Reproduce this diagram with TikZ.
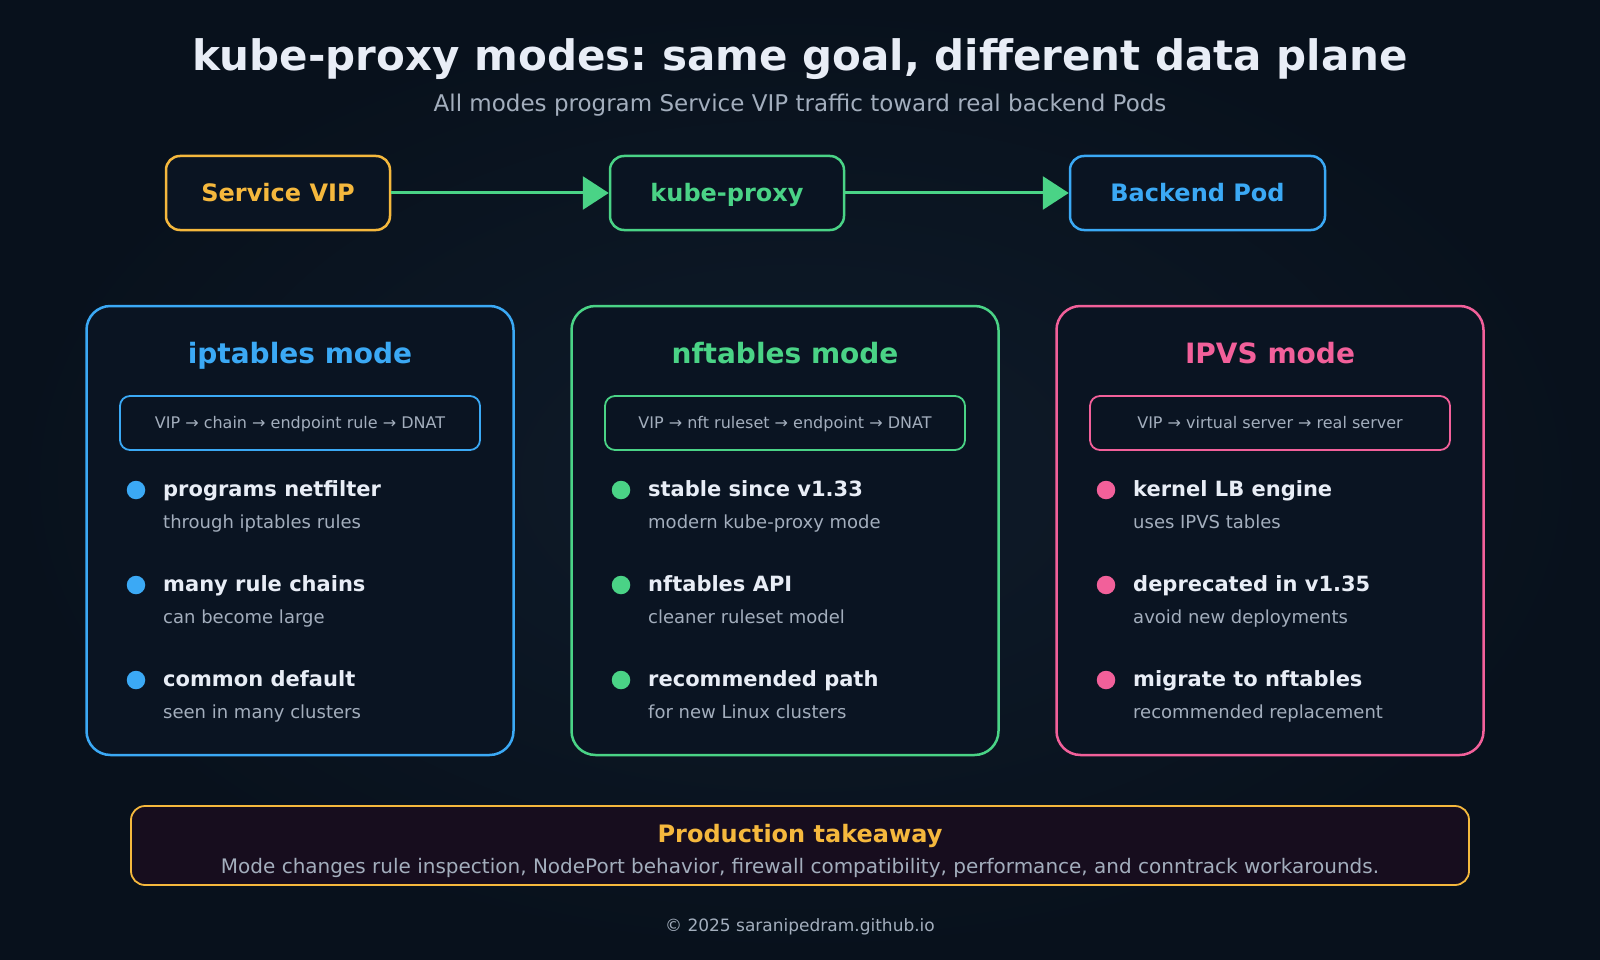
\documentclass[tikz,border=0pt]{standalone}
\usepackage{fontspec}
\setmainfont{DejaVu Sans}
\usetikzlibrary{arrows.meta, positioning}
\frenchspacing
\definecolor{bgdark}{HTML}{08111C}
\definecolor{bglight}{HTML}{0F1B2A}
\definecolor{boxfill}{HTML}{0A1422}
\definecolor{iptblue}{HTML}{3BA9F5}
\definecolor{nftgreen}{HTML}{4AD386}
\definecolor{ipvspink}{HTML}{F2609A}
\definecolor{warm}{HTML}{F5B83D}
\definecolor{headtext}{HTML}{E8EDF6}
\definecolor{subtext}{HTML}{A3AEBD}
\definecolor{takefill}{HTML}{170D1E}
\newcommand\fsz[1]{\fontsize{#1}{#1}\selectfont}

\begin{document}
\begin{tikzpicture}[x=1pt, y=-1pt,
  flowbox/.style={draw=#1, text=#1, fill=boxfill, line width=2.5pt, rounded corners=14pt,
    minimum height=74pt, text height=17.5pt, text depth=0pt, font=\fsz{24}\bfseries},
  modepanel/.style={draw=#1, fill=boxfill, line width=2.5pt, rounded corners=24pt,
    minimum width=427pt, minimum height=449pt},
  flowtag/.style={draw=#1, line width=1.8pt, rounded corners=10pt, minimum width=360pt,
    minimum height=54pt, text height=11.7pt, text depth=0pt, text=subtext, font=\fsz{16}},
  bulletdot/.style={circle, fill=#1, inner sep=0pt, minimum size=18.5pt},
  headline/.style={anchor=base west, inner sep=0pt, text=headtext, font=\fsz{21}\bfseries},
  bodyline/.style={anchor=base west, inner sep=0pt, text=subtext, font=\fsz{18}},
  flowarrow/.style={draw=nftgreen, line width=3pt, -{Triangle[length=26pt, width=33pt]}}
]
  \useasboundingbox (0,0) rectangle (1600,960);
  \fill[bgdark] (0,0) rectangle (1600,960);
  \shade[inner color=bglight, outer color=bgdark] (0,0) rectangle (1600,960);

  \node[anchor=base, inner sep=0pt, text=headtext, font=\fsz{42}\bfseries] (title) at (800,71)
    {kube-proxy modes: same goal, different data plane};
  \node[anchor=base, inner sep=0pt, text=subtext, font=\fsz{23}] (subtitle) at (800,112)
    {All modes program Service VIP traffic toward real backend Pods};

  \node[flowbox=warm, minimum width=224pt] (vip) at (278,193) {Service VIP};
  \node[flowbox=nftgreen, minimum width=234pt] (proxy) at (727,193) {kube-proxy};
  \node[flowbox=iptblue, minimum width=255pt] (pod) at (1197.5,193) {Backend Pod};
  \draw[flowarrow] (vip) -- (proxy);
  \draw[flowarrow] (proxy) -- (pod);

  \foreach \i/\cx/\col/\name/\flow in {%
    1/300/iptblue/iptables mode/VIP → chain → endpoint rule → DNAT,
    2/785/nftgreen/nftables mode/VIP → nft ruleset → endpoint → DNAT,
    3/1270/ipvspink/IPVS mode/VIP → virtual server → real server%
  } {
    \node[modepanel=\col] (panel\i) at (\cx,530.5) {};
    \node[anchor=base, inner sep=0pt, text=\col, font=\fsz{28}\bfseries] (ptitle\i) at (\cx,363) {\name};
    \node[flowtag=\col] (flow\i) at (\cx,423) {\flow};
  }

  \foreach \i/\j/\cx/\col/\head/\body in {%
    1/1/300/iptblue/programs netfilter/through iptables rules,
    1/2/300/iptblue/many rule chains/can become large,
    1/3/300/iptblue/common default/seen in many clusters,
    2/1/785/nftgreen/stable since v1.33/modern kube-proxy mode,
    2/2/785/nftgreen/nftables API/cleaner ruleset model,
    2/3/785/nftgreen/recommended path/for new Linux clusters,
    3/1/1270/ipvspink/kernel LB engine/uses IPVS tables,
    3/2/1270/ipvspink/deprecated in v1.35/avoid new deployments,
    3/3/1270/ipvspink/migrate to nftables/recommended replacement%
  } {
    \pgfmathsetmacro\yy{490+(\j-1)*95}
    \node[bulletdot=\col] (dot\i\j) at (\cx-164,\yy) {};
    \node[headline] (head\i\j) at (\cx-137,\yy+6) {\head};
    \node[bodyline] (body\i\j) at (\cx-137,\yy+38) {\body};
  }

  \node[draw=warm, fill=takefill, line width=1.8pt, rounded corners=14pt,
    minimum width=1338pt, minimum height=79pt] (takeaway) at (800,845.5) {};
  \node[anchor=base, inner sep=0pt, text=warm, font=\fsz{24}\bfseries] (taketitle) at (800,842)
    {Production takeaway};
  \node[anchor=base, inner sep=0pt, text=subtext, font=\fsz{20}] (taketext) at (800,873)
    {Mode changes rule inspection, NodePort behavior, firewall compatibility, performance, and conntrack workarounds.};

  \node[anchor=base, inner sep=0pt, text=subtext, font=\fsz{17}] (footer) at (800,931)
    {© 2025 saranipedram.github.io};
\end{tikzpicture}
\end{document}
